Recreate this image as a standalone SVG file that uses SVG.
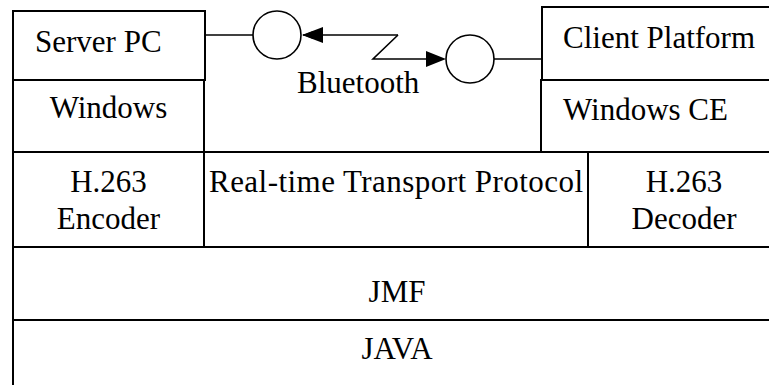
<svg xmlns="http://www.w3.org/2000/svg" width="769" height="385" viewBox="0 0 769 385">
<style>
.box{fill:#fff;stroke:#000;stroke-width:2}
.ln{fill:none;stroke:#000;stroke-width:1.6}
.t{font-family:"Liberation Serif","Times New Roman",serif;font-size:31px;fill:#000}
.c{text-anchor:middle}
</style>
<defs>
<marker id="ah" viewBox="0 0 10 8" refX="10" refY="4" markerWidth="10" markerHeight="8" markerUnits="userSpaceOnUse" orient="auto"><path d="M0,0 L10,4 L0,8 Z" fill="#000"/></marker>
</defs>
<rect width="769" height="385" fill="#fff"/>
<g id="java"><path class="box" d="M13,320 H781 M13,320 V386" /><text class="t c" x="397" y="359">JAVA</text></g>
<g id="jmf"><rect class="box" x="13" y="247" width="768" height="73"/><text class="t c" x="397" y="302">JMF</text></g>
<g id="encoder"><rect class="box" x="13" y="152" width="191" height="95"/><text class="t c" x="108.5" y="192">H.263</text><text class="t c" x="108.5" y="229">Encoder</text></g>
<g id="rtp"><rect class="box" x="204" y="152" width="384" height="95"/><text class="t" x="209" y="192" textLength="374">Real-time Transport Protocol</text></g>
<g id="decoder"><rect class="box" x="588" y="152" width="193" height="95"/><text class="t c" x="684" y="192">H.263</text><text class="t c" x="684" y="229">Decoder</text></g>
<g id="windows"><rect class="box" x="13" y="80" width="191" height="72"/><text class="t c" x="108.5" y="118">Windows</text></g>
<g id="server"><rect class="box" x="13" y="11" width="192" height="69"/><text class="t" x="35" y="52">Server PC</text></g>
<g id="windowsce"><rect class="box" x="541" y="80" width="240" height="72"/><text class="t" x="563" y="120">Windows CE</text></g>
<g id="client"><rect class="box" x="542" y="7" width="239" height="73"/><text class="t" x="563" y="48">Client Platform</text></g>
<g id="bluetooth-label"><text class="t" x="297" y="93">Bluetooth</text></g>
<g id="connectors">
<line class="ln" x1="205" y1="35" x2="253" y2="35"/>
<circle class="ln" cx="277" cy="35" r="24"/>
<path class="ln" d="M398,35 H303" marker-end="url(#ah)" style="stroke-width:1.6"/>
<path d="M302,35 L323,27 L323,43 Z" fill="#000"/>
<path class="ln" d="M398,35 L373,59 H430"/>
<path d="M446,59 L426,51 L426,67 Z" fill="#000"/>
<circle class="ln" cx="470" cy="59" r="24"/>
<line class="ln" x1="494" y1="59" x2="542" y2="59"/>
</g>
</svg>
